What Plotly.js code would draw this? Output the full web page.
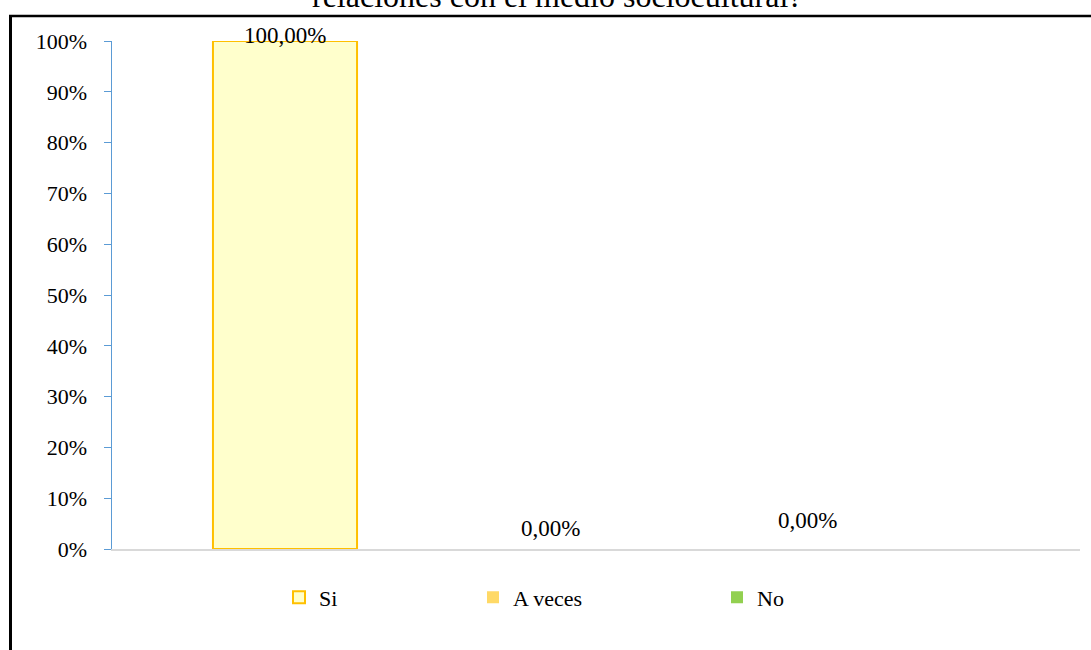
<!DOCTYPE html>
<html>
<head>
<meta charset="utf-8">
<script src="https://cdn.plot.ly/plotly-3.0.1.min.js"></script>
<style>
html,body{margin:0;padding:0;background:#fff;}
#chart{width:1091px;height:650px;}
</style>
</head>
<body>
<div id="chart"></div>
<script>
// ---- data ----
var categories = ["Si", "A veces", "No"];
var values = [1.0, 0.0, 0.0];
var titleText = "relaciones con el medio sociocultural?";

// ---- styles ----
var fills = ["#FFFFCC", "#FFD966", "#92D050"];
var borders = ["#FFC000", "#FFD966", "#92D050"];
var borderWidths = [2, 0, 0];
var labelLift = [5.5, 21, 29];          // px above bar top (label centre)
var labelNudge = [0, 4.5, 0];           // px horizontal nudge
var legendSymbolPx = [299, 493, 737];   // legend symbol centres (px)
var FONT = 'Liberation Serif, "Times New Roman", serif';

var L = 112, R = 1080, T = 41, B = 549, W = 1091, H = 650;
function px2x(px){ return (px - L) / (R - L); }
function px2y(py){ return (B - py) / (B - T); }

function fmt(v){ return (v * 100).toFixed(2).replace('.', ',') + '%'; }

var traces = categories.map(function(c, i){
  return {
    type: 'bar',
    name: c,
    x: [c],
    y: [values[i]],
    marker: {color: fills[i], line: {color: borders[i], width: borderWidths[i]}},
    legend: i === 0 ? 'legend' : 'legend' + (i + 1),
    hoverinfo: 'skip'
  };
});

var annotations = categories.map(function(c, i){
  return {
    x: c, y: values[i], xref: 'x', yref: 'y',
    text: fmt(values[i]), showarrow: false,
    yanchor: 'middle', yshift: labelLift[i], xshift: labelNudge[i],
    font: {family: FONT, size: 23, color: '#000'}
  };
});
annotations.push({
  xref: 'paper', yref: 'paper',
  x: px2x(556.5), y: px2y(-3.5),
  xanchor: 'center', yanchor: 'middle',
  text: titleText, showarrow: false,
  font: {family: FONT, size: 32, color: '#000'}
});

function legendCfg(i){
  return {
    orientation: 'h',
    x: px2x(legendSymbolPx[i] - 20), xanchor: 'left',
    y: px2y(597.5), yanchor: 'middle',
    bgcolor: 'rgba(0,0,0,0)',
    font: {family: FONT, size: 22, color: '#000'}
  };
}

var layout = {
  width: W, height: H,
  margin: {l: L, r: W - R, t: T, b: H - B, autoexpand: false},
  paper_bgcolor: '#fff', plot_bgcolor: '#fff',
  barmode: 'overlay',
  bargap: 0.448,
  showlegend: true,
  legend: legendCfg(0),
  legend2: legendCfg(1),
  legend3: legendCfg(2),
  xaxis: {
    type: 'category',
    range: [(L - 285) / 261, (R - 285) / 261],
    showticklabels: false, ticks: '',
    showgrid: false, zeroline: false,
    showline: true, linecolor: '#D9D9D9', linewidth: 2,
    fixedrange: true
  },
  yaxis: {
    range: [0, 1], dtick: 0.1, tick0: 0,
    tickformat: '.0%',
    showgrid: false, zeroline: false,
    showline: true, linecolor: '#5B9BD5', linewidth: 1.5,
    ticks: 'outside', ticklen: 7, tickcolor: '#5B9BD5', tickwidth: 1,
    ticklabelstandoff: 12,
    tickfont: {family: FONT, size: 22, color: '#000'},
    fixedrange: true
  },
  annotations: annotations,
  shapes: [
    {type: 'line', xref: 'paper', yref: 'paper',
     x0: px2x(10.5), x1: px2x(10.5), y0: px2y(15), y1: px2y(700),
     line: {color: '#000', width: 3}},
    {type: 'line', xref: 'paper', yref: 'paper',
     x0: px2x(9), x1: px2x(1100), y0: px2y(16), y1: px2y(16),
     line: {color: '#000', width: 2.5}}
  ]
};

Plotly.newPlot('chart', traces, layout, {displayModeBar: false, staticPlot: true});
</script>
</body>
</html>
